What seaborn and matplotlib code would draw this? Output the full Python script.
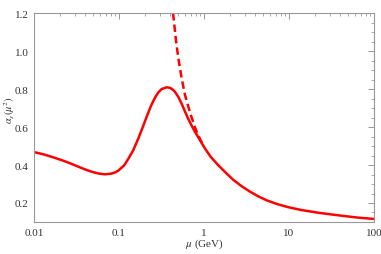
import seaborn as sns
import matplotlib.pyplot as plt
from matplotlib.ticker import FixedLocator, MultipleLocator, LogLocator, NullFormatter

# solid curve
mu = [0.01, 0.013, 0.017, 0.022, 0.028, 0.035, 0.042, 0.05, 0.058, 0.068, 0.08, 0.09,
      0.098, 0.115, 0.1285, 0.148, 0.169, 0.19, 0.212, 0.24, 0.265, 0.29, 0.318, 0.364,
      0.40, 0.435, 0.456, 0.50, 0.547, 0.60, 0.654, 0.72, 0.783, 0.9, 1.03, 1.2, 1.45,
      1.8, 2.21, 2.8, 3.47, 4.4, 5.47, 7.3, 9.8, 14, 21.2, 30, 43.6, 65, 100]
alpha = [0.468, 0.456, 0.440, 0.423, 0.405, 0.387, 0.373, 0.362, 0.355, 0.351, 0.354, 0.361,
         0.370, 0.398, 0.432, 0.480, 0.540, 0.598, 0.655, 0.715, 0.754, 0.782, 0.800, 0.809,
         0.806, 0.795, 0.785, 0.758, 0.722, 0.680, 0.642, 0.605, 0.575, 0.530, 0.486, 0.443, 0.402,
         0.360, 0.322, 0.287, 0.260, 0.234, 0.214, 0.194, 0.178, 0.163, 0.150, 0.141, 0.132, 0.123, 0.116]

# dashed curve
mu_d = [0.42, 0.435, 0.47, 0.50, 0.547, 0.597, 0.684, 0.783, 0.86, 0.95]
alpha_d = [1.26, 1.19, 1.05, 0.96, 0.855, 0.77, 0.677, 0.598, 0.554, 0.515]

sns.set_style("white")
plt.rcParams['font.family'] = ['Liberation Serif', 'DejaVu Serif']
plt.rcParams['mathtext.fontset'] = 'stix'

fig = plt.figure(figsize=(3.81, 2.55), dpi=100)
ax = fig.add_axes([0.0892, 0.1255, 0.8924, 0.8195])

sns.lineplot(x=mu_d, y=alpha_d, ax=ax, color="red", lw=1.8, linestyle=(0, (3, 1.6)))
sns.lineplot(x=mu, y=alpha, ax=ax, color="red", lw=1.8)

ax.set_xscale("log")
ax.set_xlim(0.01, 100)
ax.set_ylim(0.1, 1.2)
ax.xaxis.set_major_locator(FixedLocator([0.01, 0.1, 1, 10, 100]))
ax.set_xticklabels(["0.01", "0.1", "1", "10", "100"])
ax.xaxis.set_minor_locator(LogLocator(base=10, subs=range(2, 10)))
ax.xaxis.set_minor_formatter(NullFormatter())
ax.yaxis.set_major_locator(FixedLocator([0.2, 0.4, 0.6, 0.8, 1.0, 1.2]))
ax.yaxis.set_minor_locator(MultipleLocator(0.05))

for s in ax.spines.values():
    s.set_color("#999999")
    s.set_linewidth(0.8)
ax.tick_params(which="both", direction="in", colors="#999999", labelcolor="#333333",
               top=True, right=True, labelsize=8, pad=4)
ax.tick_params(which="major", length=4, width=0.7)
ax.tick_params(which="minor", length=2, width=0.6)

ax.set_xlabel(r"$\mu$ (GeV)", fontsize=8, color="#333333")
ax.set_ylabel(r"$\alpha_s(\mu^2)$", fontsize=7.5, color="#333333")
ax.xaxis.set_label_coords(0.5, -0.07)
ax.yaxis.set_label_coords(-0.05, 0.54)

fig.savefig("out.png", dpi=100)
